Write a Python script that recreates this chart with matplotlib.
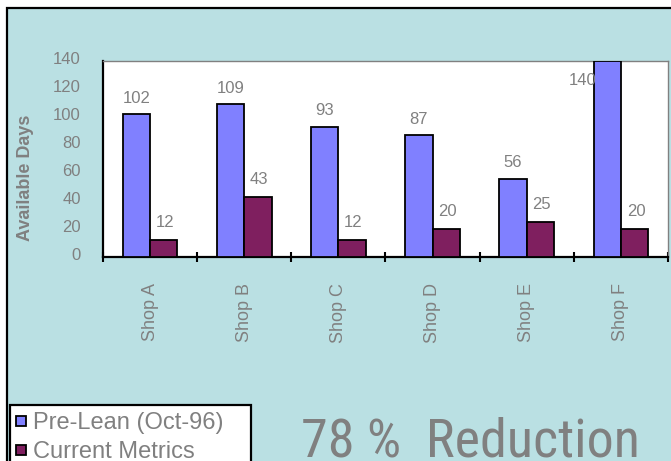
import matplotlib
matplotlib.use("Agg")
import matplotlib.pyplot as plt
import matplotlib.transforms as mtransforms
from matplotlib import font_manager as fm
from matplotlib.patches import Rectangle
from matplotlib.lines import Line2D
import numpy as np

shops = ["Shop A", "Shop B", "Shop C", "Shop D", "Shop E", "Shop F"]
pre_lean = [102, 109, 93, 87, 56, 140]
current = [12, 43, 12, 20, 25, 20]
series_names = ["Pre-Lean (Oct-96)", "Current Metrics"]
yticks = [0, 20, 40, 60, 80, 100, 120, 140]
headline = "78 %  Reduction"

BLUE = "#8080FF"
MAROON = "#7F1F5F"
TEAL = "#BAE0E3"
GRAY = "#808080"

plt.rcParams["font.family"] = ["Liberation Sans", "DejaVu Sans"]

W, H = 671, 461
fig = plt.figure(figsize=(W / 100, H / 100), dpi=100)
fig.patch.set_facecolor("white")

# teal panel with black frame
fig.patches.append(Rectangle((7 / W, -0.05), 1.1, 1 - 8 / H + 0.05,
                             transform=fig.transFigure, facecolor=TEAL,
                             edgecolor="black", linewidth=1.6, zorder=-10))

ax = fig.add_axes([103 / W, 1 - 257 / H, (668 - 103) / W, (257 - 61) / H])
ax.set_zorder(1)
ax.set_facecolor("white")

x = np.arange(len(shops))
bw = 0.29
b1 = ax.bar(x - bw / 2, pre_lean, bw, color=BLUE, edgecolor="black", linewidth=1.3, zorder=3)
b2 = ax.bar(x + bw / 2, current, bw, color=MAROON, edgecolor="black", linewidth=1.3, zorder=3)

ax.set_xlim(-0.5, len(shops) - 0.5)
ax.set_ylim(0, 140)

# value labels
for rect, v in zip(b1, pre_lean):
    cx = rect.get_x() + rect.get_width() / 2
    if v >= 140:
        ax.annotate(str(v), (cx, v), xytext=(-18, -14), textcoords="offset points",
                    ha="center", va="center", fontsize=12, color=GRAY, zorder=5)
    else:
        ax.annotate(str(v), (cx, v), xytext=(0, 6), textcoords="offset points",
                    ha="center", va="bottom", fontsize=12, color=GRAY, zorder=5)
for rect, v in zip(b2, current):
    cx = rect.get_x() + rect.get_width() / 2
    ax.annotate(str(v), (cx, v), xytext=(1, 7), textcoords="offset points",
                ha="center", va="bottom", fontsize=12, color=GRAY, zorder=5)

# spines
for s in ("top", "right"):
    ax.spines[s].set_color(GRAY)
    ax.spines[s].set_linewidth(1.0)
for s in ("left", "bottom"):
    ax.spines[s].set_color("black")
    ax.spines[s].set_linewidth(1.6)

# y axis
ax.set_yticks(yticks)
ax.tick_params(axis="y", length=0, pad=16, labelsize=12, labelcolor=GRAY)
off = mtransforms.ScaledTranslation(0, 3 / 100, fig.dpi_scale_trans)
for lab in ax.get_yticklabels():
    lab.set_transform(lab.get_transform() + off)

# x axis: labels at centres, tick marks at category boundaries
ax.set_xticks(x)
ax.set_xticklabels(shops, rotation=90, fontsize=13, color=GRAY, va="top")
ax.tick_params(axis="x", which="major", length=0, pad=19)
ax.set_xticks(np.arange(-0.5, len(shops)), minor=True)
ax.tick_params(axis="x", which="minor", direction="inout", length=7, width=1.5, color="black")

fig.text(26 / W, 1 - 178 / H, "Available Days", rotation=90, ha="center", va="center",
         fontsize=13, fontweight="bold", color=GRAY)

# legend box
fig.patches.append(Rectangle((10 / W, -0.05), (251 - 10) / W, 1 - 405 / H + 0.05,
                             transform=fig.transFigure, facecolor="white",
                             edgecolor="black", linewidth=1.6, zorder=1.5))
handles = [Line2D([], [], linestyle="none", marker="s", markersize=7,
                  markerfacecolor=c, markeredgecolor="black", markeredgewidth=1.3)
           for c in (BLUE, MAROON)]
leg = fig.legend(handles, series_names, loc="upper left",
                 bbox_to_anchor=(15 / W, 1 - 412 / H), frameon=False,
                 fontsize=17, labelcolor=GRAY, handlelength=0.55, handletextpad=0.2,
                 borderpad=0, borderaxespad=0, labelspacing=0.3)
leg.set_zorder(2)

# headline in a narrow face when one is installed, sized to its span
_pref = ["Liberation Sans Narrow", "Arial Narrow", "Nimbus Sans Narrow",
         "Roboto Condensed", "Open Sans Condensed", "Noto Sans Condensed"]

def _rank(f):
    for i, name in enumerate(_pref):
        if name in f.name or (name.split()[0] in f.name and f.stretch in ("condensed", "semi-condensed")):
            return i
    return len(_pref)

narrow = sorted([f for f in fm.fontManager.ttflist
                 if ("Narrow" in f.name or "Condensed" in f.name
                     or f.stretch in ("condensed", "semi-condensed", 75, 87))
                 and f.style == "normal" and f.weight in (400, "normal", "regular")],
                key=_rank)
if narrow:
    head_fp = fm.FontProperties(fname=narrow[0].fname, size=48)
else:
    head_fp = fm.FontProperties(family="Liberation Sans", size=48)
head = fig.text(301 / W, 1 - 456 / H, headline, ha="left", va="baseline",
                fontproperties=head_fp, color=GRAY, zorder=3)
renderer = fig.canvas.get_renderer()
span = head.get_window_extent(renderer).width
head.set_fontsize(48 * (640 - 301) / span)

fig.savefig("out.png", dpi=100)
